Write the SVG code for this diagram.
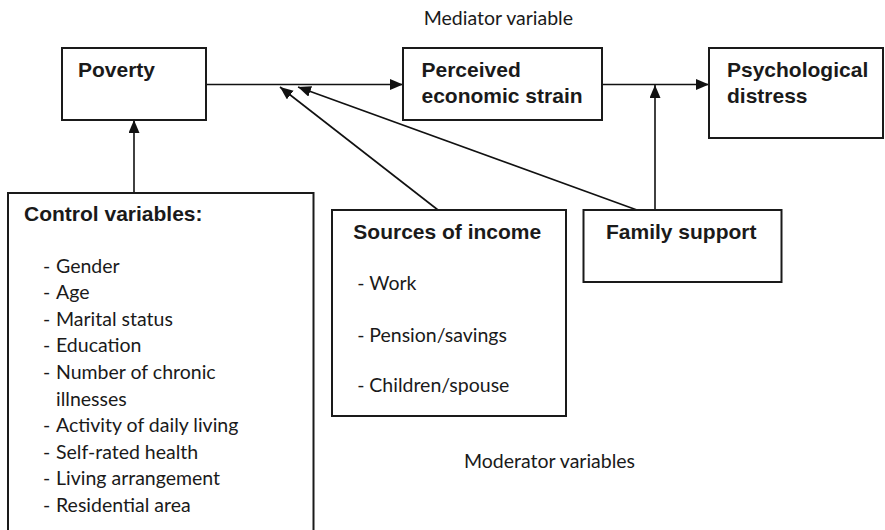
<svg xmlns="http://www.w3.org/2000/svg" width="885" height="530" viewBox="0 0 885 530">
<defs>
<marker id="arr" markerUnits="userSpaceOnUse" markerWidth="14" markerHeight="12" refX="13" refY="5.5" orient="auto">
<path d="M0,0 L13,5.5 L0,11 Z" fill="#111"/>
</marker>
<style>
.box{fill:#fff;stroke:#1a1a1a;stroke-width:2}
.ln{fill:none;stroke:#111;stroke-width:1.6}
.b{font-family:"Liberation Sans",Arial,sans-serif;font-weight:bold;font-size:21px;fill:#1a1a1a}
.r{font-family:Lato,"Open Sans",sans-serif;font-size:19.5px;fill:#1a1a1a}
</style>
</defs>
<rect width="885" height="530" fill="#fff"/>
<g id="connectors">
<line class="ln" x1="206" y1="84.5" x2="403" y2="84.5" marker-end="url(#arr)"/>
<line class="ln" x1="602" y1="84.5" x2="709" y2="84.5" marker-end="url(#arr)"/>
<line class="ln" x1="134" y1="193" x2="134" y2="120" marker-end="url(#arr)"/>
<line class="ln" x1="655" y1="210" x2="655" y2="85" marker-end="url(#arr)"/>
<line class="ln" x1="438" y1="210" x2="280" y2="87" marker-end="url(#arr)"/>
<line class="ln" x1="637" y1="210" x2="298" y2="87" marker-end="url(#arr)"/>
</g>
<g id="poverty">
<rect class="box" x="62" y="48" width="144" height="72"/>
<text class="b" x="78" y="77">Poverty</text>
</g>
<g id="strain">
<rect class="box" x="403" y="48" width="199" height="72"/>
<text class="b" x="421.5" y="77">Perceived</text>
<text class="b" x="421.5" y="102.7">economic strain</text>
</g>
<g id="distress">
<rect class="box" x="709" y="48" width="174" height="90"/>
<text class="b" x="727" y="77">Psychological</text>
<text class="b" x="727" y="102.7">distress</text>
</g>
<g id="mediator-label">
<text class="r" x="573" y="24.5" text-anchor="end">Mediator variable</text>
</g>
<g id="control">
<rect class="box" x="8" y="193" width="305.5" height="345"/>
<text class="b" x="24" y="220.5">Control variables:</text>
<g class="r">
<text x="43" y="272.5">-</text><text x="56" y="272.5">Gender</text>
<text x="43" y="299.1">-</text><text x="56" y="299.1">Age</text>
<text x="43" y="325.7">-</text><text x="56" y="325.7">Marital status</text>
<text x="43" y="352.3">-</text><text x="56" y="352.3">Education</text>
<text x="43" y="378.9">-</text><text x="56" y="378.9">Number of chronic</text>
<text x="56" y="405.5">illnesses</text>
<text x="43" y="432.1">-</text><text x="56" y="432.1">Activity of daily living</text>
<text x="43" y="458.7">-</text><text x="56" y="458.7">Self-rated health</text>
<text x="43" y="485.3">-</text><text x="56" y="485.3">Living arrangement</text>
<text x="43" y="511.9">-</text><text x="56" y="511.9">Residential area</text>
</g>
</g>
<g id="income">
<rect class="box" x="332" y="210" width="234" height="206"/>
<text class="b" x="353.3" y="239.3">Sources of income</text>
<g class="r">
<text x="357.3" y="290">-</text><text x="369.3" y="290">Work</text>
<text x="357.3" y="341.7">-</text><text x="369.3" y="341.7">Pension/savings</text>
<text x="357.3" y="392.3">-</text><text x="369.3" y="392.3">Children/spouse</text>
</g>
</g>
<g id="family">
<rect class="box" x="583.5" y="210" width="198" height="72"/>
<text class="b" x="606" y="239.3">Family support</text>
</g>
<g id="moderator-label">
<text class="r" x="464" y="467.7">Moderator variables</text>
</g>
</svg>
